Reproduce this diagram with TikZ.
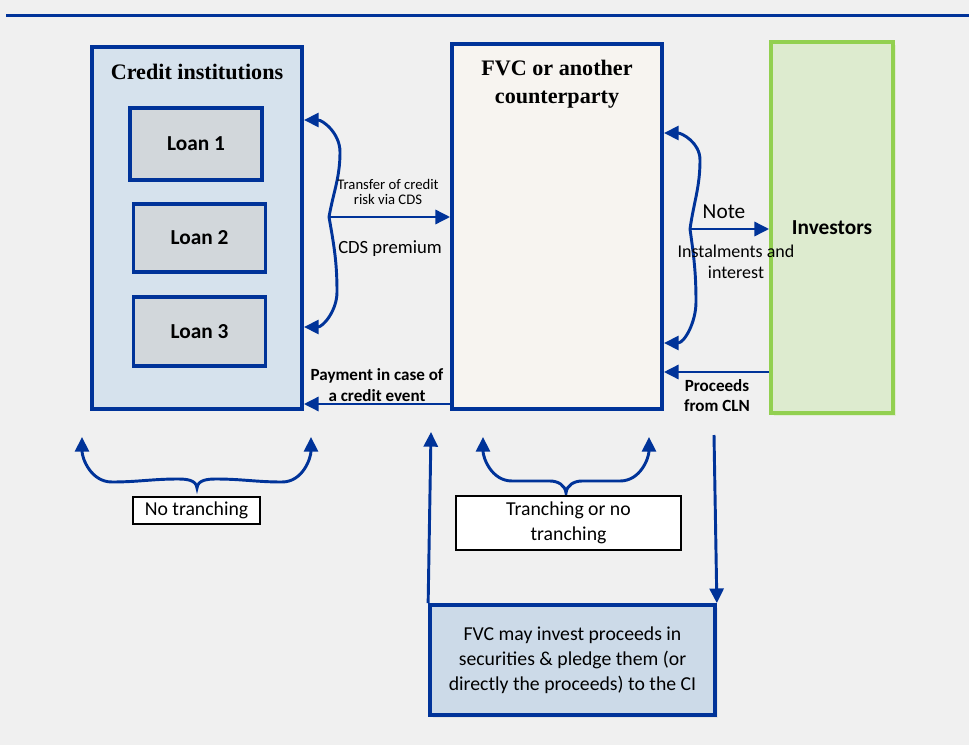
\documentclass[tikz,border=0pt]{standalone}
\usepackage{fontspec}
\setmainfont{Carlito}
\newfontfamily\titlefont{Liberation Serif}
\usetikzlibrary{arrows.meta,shadows}

\definecolor{ecbblue}{RGB}{0,51,153}
\definecolor{pagegray}{RGB}{240,240,240}
\definecolor{cifill}{RGB}{214,226,237}
\definecolor{loanfill}{RGB}{210,215,219}
\definecolor{fvcfill}{RGB}{247,244,240}
\definecolor{invgreen}{RGB}{146,208,80}
\definecolor{invfill}{RGB}{221,235,207}
\definecolor{investfill}{RGB}{204,218,232}

\newcommand{\fs}[2]{\fontsize{#1}{#2}\selectfont}

\tikzset{
  bigbox/.style={draw=ecbblue, line width=2.8pt, rectangle, inner sep=0pt},
  loanbox/.style={draw=ecbblue, line width=2.8pt, fill=loanfill, minimum width=99pt,
    minimum height=51.5pt, font=\fs{16}{19}\bfseries},
  flow/.style={draw=ecbblue, line width=2.2pt, -{Triangle[length=11pt,width=10.5pt]}},
  twoway/.style={draw=ecbblue, line width=2.2pt,
    {Triangle[length=11pt,width=10.5pt]}-{Triangle[length=11pt,width=10.5pt]}},
  tagbox/.style={draw=black, fill=white, line width=0.8pt, align=center,
    font=\fs{14.8}{18.75}},
  lbl/.style={align=center, inner sep=0pt}
}

\begin{document}
\begin{tikzpicture}[x=0.75pt, y=-0.75pt]
\useasboundingbox (0,0) rectangle (969,745);
\fill[pagegray] (0,0) rectangle (969,745);
\draw[ecbblue, line width=2.25pt] (6,16) -- (969,16);

% the three parties
\node[bigbox, fill=cifill, minimum width=157.5pt, minimum height=271.5pt] (ci) at (197,228) {};
\node[bigbox, fill=fvcfill, minimum width=157.5pt, minimum height=273.75pt] (fvc) at (557,226.5) {};
\node[bigbox, draw=invgreen, fill=invfill, minimum width=91.5pt, minimum height=278.25pt,
  drop shadow={shadow xshift=2pt, shadow yshift=-2pt, fill=invgreen!40}, font=\fs{16}{19}\bfseries]
  (inv) at (832,227.5) {Investors};

\node[lbl, font=\titlefont\fs{16.6}{20}\bfseries] (cititle) at (197,72) {Credit institutions};
\node[lbl, font=\titlefont\fs{16.6}{21}\bfseries] (fvctitle) at (557,84) {FVC or another\\counterparty};

\node[loanbox, minimum height=54pt] (loan1) at (196,144) {Loan 1};
\node[loanbox] (loan2) at (199.5,238) {Loan 2};
\node[loanbox] (loan3) at (199.5,331.5) {Loan 3};

% collateral box
\node[bigbox, fill=investfill, minimum width=213.75pt, minimum height=82.5pt, align=center,
  drop shadow={shadow xshift=2pt, shadow yshift=-2pt, fill=black!15}, font=\fs{14.8}{18.75}]
  (invest) at (572.5,660) {FVC may invest proceeds in\\securities \& pledge them (or\\directly the proceeds) to the CI};

% CDS between credit institutions and FVC
\coordinate (ciA) at (304,120);
\coordinate (ciB) at (304,327);
\coordinate (cdsmid) at (329,217);
\draw[twoway] (ciA) to[out=0,in=90] (340,152) to[out=-90,in=80] (cdsmid)
  to[out=-80,in=90] (337,292) to[out=-90,in=0] (ciB);
\draw[flow] (cdsmid) -- (cdsmid -| fvc.west);
\node[lbl, font=\fs{11}{11.5}] (transfer) at (388,192) {Transfer of credit\\risk via CDS};
\node[lbl, font=\fs{14}{16}] (premium) at (390,249) {CDS premium};

\coordinate (pay) at (452,404);
\draw[flow] (fvc.west |- pay) -- (pay -| ci.east);
\node[lbl, font=\fs{12.8}{15.75}\bfseries] (payment) at (377,385) {Payment in case of\\a credit event};

% note between FVC and investors
\coordinate (fvcA) at (664,133);
\coordinate (fvcB) at (664,343);
\coordinate (notemid) at (690,229);
\draw[twoway] (fvcA) to[out=0,in=90] (700,160) to[out=-90,in=82] (notemid)
  to[out=-82,in=90] (696,302) to[out=-90,in=0] (fvcB);
\draw[flow] (notemid) -- (notemid -| inv.west);
\node[lbl, font=\fs{16}{19}] (note) at (724,212) {Note};
\node[lbl, font=\fs{13.5}{16}] (instal) at (736,262) {Instalments and\\interest};

\coordinate (cln) at (inv.west |- 0,372);
\draw[flow] (cln) -- (cln -| fvc.east);
\node[lbl, font=\fs{12.8}{15}\bfseries] (proceeds) at (717,396) {Proceeds\\from CLN};

% tranching braces
\coordinate (nbL) at (82,437);
\coordinate (nbR) at (311,437);
\coordinate (nbC) at (197,488);
\draw[twoway] (nbL) to[out=-90,in=180] (112,482) to[out=0,in=180] (178,479)
  to[out=0,in=95] (nbC) to[out=85,in=180] (216,479) to[out=0,in=180] (282,482)
  to[out=0,in=-90] (nbR);
\node[tagbox, minimum width=95.25pt, minimum height=20.25pt] (notr) at (196.5,510.5) {No tranching};

\coordinate (trL) at (483,437);
\coordinate (trR) at (649,437);
\coordinate (trC) at (566,493);
\draw[twoway] (trL) to[out=-90,in=180] (512,481) to[out=0,in=180] (550,481)
  to[out=0,in=95] (trC) to[out=85,in=180] (582,481) to[out=0,in=180] (620,481)
  to[out=0,in=-90] (trR);
\node[tagbox, minimum width=168.75pt, minimum height=40.5pt] (tr) at (568.5,523) {Tranching or no\\tranching};

% proceeds to and from the collateral
\coordinate (upend) at (431,432);
\coordinate (downstart) at (714,435);
\draw[flow] (invest.north west) -- (upend);
\draw[flow] (downstart) -- (invest.north east);
\end{tikzpicture}
\end{document}
